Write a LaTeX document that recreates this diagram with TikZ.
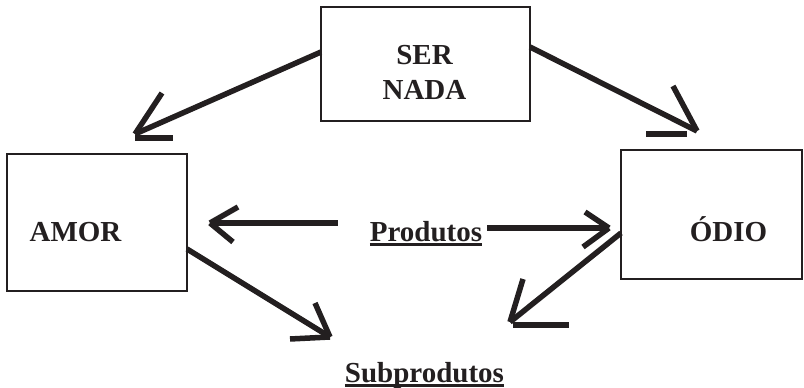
\documentclass[tikz,border=0pt]{standalone}
\usepackage{fontspec}
\setmainfont{Liberation Serif}
\definecolor{tinta}{HTML}{231F20}
\newcommand{\sublinha}[1]{\sbox0{#1}\rlap{\rule[-4.5pt]{\wd0}{2.5pt}}\usebox0}

\begin{document}
\begin{tikzpicture}[x=1pt, y=-1pt, color=tinta,
        caixa/.style={draw, line width=2.2pt, inner sep=0pt, outer sep=0pt},
        rotulo/.style={inner sep=0pt, font=\bfseries\fontsize{29}{35}\selectfont},
        seta/.style={line width=5.5pt}]
        \useasboundingbox (0, 0) rectangle (804, 388);

        \node[caixa, minimum width=209pt, minimum height=114pt] (ser-box) at (425.5, 64) {};
        \node[caixa, minimum width=180pt, minimum height=137pt] (amor-box) at (97, 222.5) {};
        \node[caixa, minimum width=181pt, minimum height=129pt] (odio-box) at (711.5, 214.5) {};

        \node[rotulo, align=center] (ser-label) at (424.5, 72.5) {SER\\NADA};
        \node[rotulo, anchor=base] (amor-label) at (75.5, 241) {AMOR};
        \node[rotulo, anchor=base] (odio-label) at (728.5, 241) {ÓDIO};
        \node[rotulo, anchor=base] (produtos) at (426, 241) {\sublinha{Produtos}};
        \node[rotulo, anchor=base] (subprodutos) at (424.5, 382) {\sublinha{Subprodutos}};

        \coordinate (ponta-amor) at (135, 134);
        \coordinate (ponta-odio) at (697, 131);
        \coordinate (ponta-prod-amor) at (210, 223);
        \coordinate (ponta-prod-odio) at (609, 228);
        \coordinate (ponta-sub-amor) at (330, 337);
        \coordinate (ponta-sub-odio) at (510, 322);

        % ser/nada -> amor, odio
        \draw[seta] ([yshift=12pt]ser-box.west) -- (ponta-amor);
        \draw[seta] (ponta-amor) -- ++(27, -41);
        \draw[seta] (ponta-amor) ++(0, 4) -- ++(38, 0);
        \draw[seta] ([yshift=17pt]ser-box.east) -- (ponta-odio);
        \draw[seta] (ponta-odio) -- ++(-24, -45);
        \draw[seta] (ponta-odio) ++(-51, 3) -- ++(41, 0);

        % produtos
        \draw[seta] ([xshift=-32pt, yshift=18pt]produtos.base west) -- (ponta-prod-amor);
        \draw[seta] (ponta-prod-amor) -- ++(28, -16);
        \draw[seta] (ponta-prod-amor) -- ++(23, 19);
        \draw[seta] ([xshift=5pt, yshift=13pt]produtos.base east) -- (ponta-prod-odio);
        \draw[seta] (ponta-prod-odio) -- ++(-24, -16);
        \draw[seta] (ponta-prod-odio) -- ++(-26, 19);

        % subprodutos
        \draw[seta] ([yshift=-26.5pt]amor-box.east) -- (ponta-sub-amor);
        \draw[seta] (ponta-sub-amor) -- ++(-15, -34);
        \draw[seta] (ponta-sub-amor) -- ++(-40, 2);
        \draw[seta] ([yshift=-18.5pt]odio-box.west) -- (ponta-sub-odio);
        \draw[seta] (ponta-sub-odio) -- ++(13, -43);
        \draw[seta] (ponta-sub-odio) ++(3, 3) -- ++(56, 0);

    \end{tikzpicture}
\end{document}
